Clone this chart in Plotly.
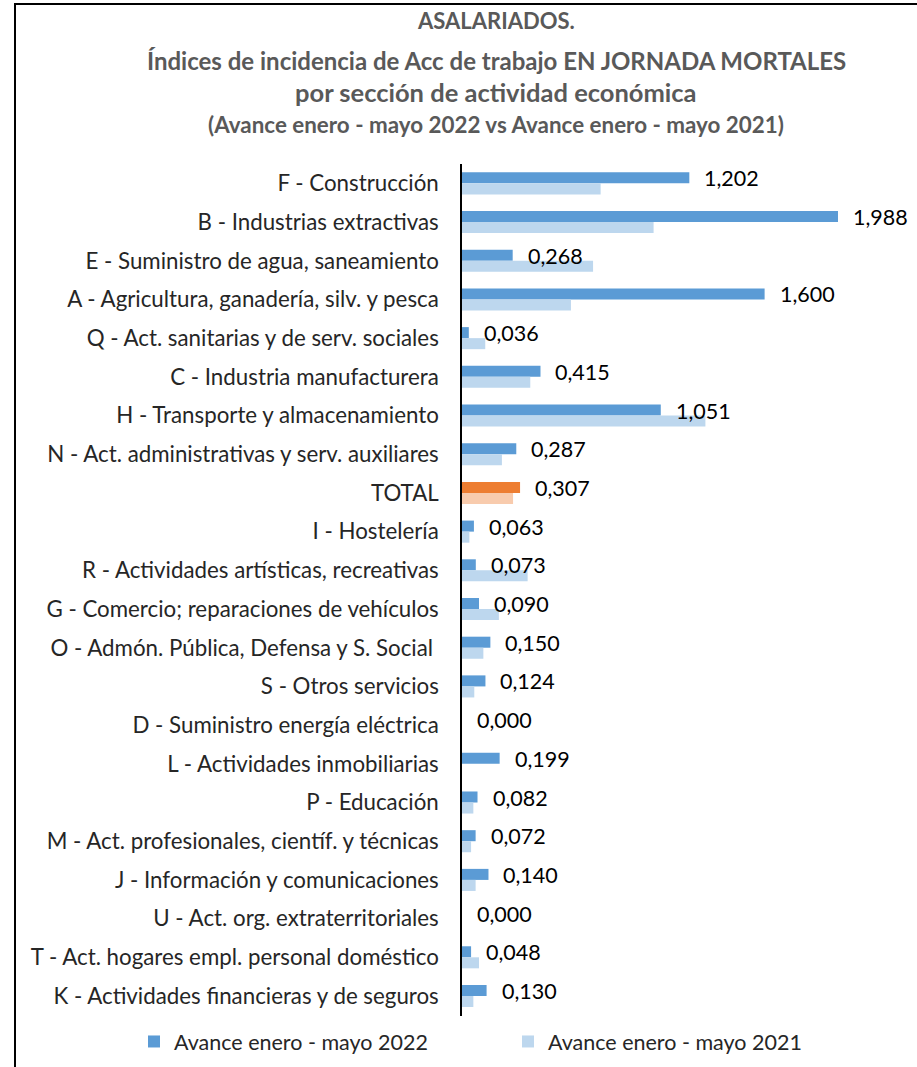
import plotly.graph_objects as go

categories = [
    "F - Construcción",
    "B - Industrias extractivas",
    "E - Suministro de agua, saneamiento",
    "A - Agricultura, ganadería, silv. y pesca",
    "Q - Act. sanitarias y de serv. sociales",
    "C - Industria manufacturera",
    "H - Transporte y almacenamiento",
    "N - Act. administrativas y serv. auxiliares",
    "TOTAL",
    "I - Hostelería",
    "R - Actividades artísticas, recreativas",
    "G - Comercio; reparaciones de vehículos",
    "O - Admón. Pública, Defensa y S. Social ",
    "S - Otros servicios",
    "D - Suministro energía eléctrica",
    "L - Actividades inmobiliarias",
    "P - Educación",
    "M - Act. profesionales, científ. y técnicas",
    "J - Información y comunicaciones",
    "U - Act. org. extraterritoriales",
    "T - Act. hogares empl. personal doméstico",
    "K - Actividades financieras y de seguros",
]
values_2022 = [1.202, 1.988, 0.268, 1.600, 0.036, 0.415, 1.051, 0.287, 0.307, 0.063, 0.073,
               0.090, 0.150, 0.124, 0.000, 0.199, 0.082, 0.072, 0.140, 0.000, 0.048, 0.130]
values_2021 = [0.733, 1.013, 0.693, 0.576, 0.123, 0.361, 1.287, 0.211, 0.270, 0.039, 0.347,
               0.195, 0.113, 0.065, 0.000, 0.000, 0.060, 0.048, 0.072, 0.000, 0.090, 0.060]
series_names = ["Avance enero - mayo 2022", "Avance enero - mayo 2021"]

C22, C21 = "#5B9BD5", "#BDD7EE"
O22, O21 = "#ED7D31", "#F8CBAD"
colors22 = [O22 if c == "TOTAL" else C22 for c in categories]
colors21 = [O21 if c == "TOTAL" else C21 for c in categories]

FONT = "Lato"
FS = 21.5
FS_CAT = 22.3

fig = go.Figure()
fig.add_trace(go.Bar(y=categories, x=values_2022, orientation="h", name=series_names[0],
                     marker=dict(color=colors22, line=dict(width=0))))
fig.add_trace(go.Bar(y=categories, x=values_2021, orientation="h", name=series_names[1],
                     marker=dict(color=colors21, line=dict(width=0))))

for c, v in zip(categories, values_2022):
    fig.add_annotation(x=v, y=c, xref="x", yref="y", text=f"{v:.3f}".replace(".", ","),
                       showarrow=False, xanchor="left", yanchor="middle", xshift=13, yshift=5,
                       font=dict(family=FONT, size=FS, color="#000000"))

W, H = 917, 1067
L, R, T, B = 462, 20, 164, 51
PW, PH = W - L - R, H - T - B

fig.update_layout(
    width=W, height=H,
    margin=dict(l=L, r=R, t=T, b=B, autoexpand=False),
    paper_bgcolor="white", plot_bgcolor="white",
    barmode="group", bargap=0.43, bargroupgap=0,
    font=dict(family=FONT, size=FS, color="#262626"),
    showlegend=True,
    legend=dict(orientation="h", xref="paper", yref="paper", x=(134 - L) / PW, xanchor="left",
                y=-(1021 - (H - B)) / PH, yanchor="top",
                font=dict(family=FONT, size=FS, color="#262626"),
                itemwidth=30, traceorder="normal", entrywidth=329, bgcolor="rgba(0,0,0,0)"),
    xaxis=dict(range=[0, 2.3], visible=False, fixedrange=True),
    yaxis=dict(autorange="reversed", showline=True, linecolor="#000000", linewidth=1.5,
               ticks="", showgrid=False, ticklabelstandoff=17, fixedrange=True,
               tickfont=dict(family=FONT, size=FS_CAT, color="#262626")),
)

TITLE_CX = 496
title_lines = [
    ("ASALARIADOS.", 22, 20),
    ("Índices de incidencia de Acc de trabajo EN JORNADA MORTALES", 24, 60),
    ("por sección de actividad económica", 25.5, 92),
    ("(Avance enero - mayo 2022 vs Avance enero - mayo 2021)", 22.4, 125),
]
for txt, sz, ypx in title_lines:
    fig.add_annotation(x=(TITLE_CX - L) / PW, y=((H - B) - ypx) / PH, xref="paper", yref="paper",
                       showarrow=False, text=f"<b>{txt}</b>", xanchor="center", yanchor="middle",
                       font=dict(family=FONT, size=sz, color="#595959"))

# chart border
fig.add_shape(type="rect", xref="paper", yref="paper",
              x0=(15 - L) / PW, x1=(W + 10 - L) / PW,
              y0=((H - B) - (H + 10)) / PH, y1=((H - B) - 4) / PH,
              line=dict(color="#000000", width=2), fillcolor="rgba(0,0,0,0)", layer="above")

fig.write_html("out.html", config={"displayModeBar": False},
               post_script="document.body.style.margin='0';document.body.style.overflow='hidden';")
